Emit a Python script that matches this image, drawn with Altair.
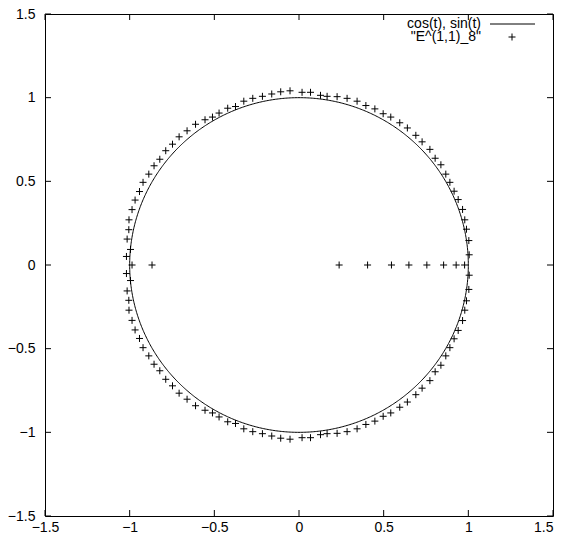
import altair as alt
import pandas as pd
import numpy as np

# eigenvalues (upper half-plane; lower half are conjugates)
upper_re = [-0.053, -0.108, -0.161, -0.216, -0.273, -0.326, -0.375, -0.421, -0.472, -0.511,
            -0.555, -0.611, -0.661, -0.708, -0.747, -0.787, -0.822, -0.856, -0.887, -0.921,
            -0.942, -0.968, -0.986, -1.004, -1.005, -1.015, -0.995, -1.019,
            0.018, 0.068, 0.127, 0.166, 0.225, 0.284, 0.343, 0.395, 0.448, 0.497,
            0.542, 0.595, 0.640, 0.690, 0.727, 0.773, 0.804, 0.838, 0.867, 0.891,
            0.916, 0.940, 0.966, 0.979, 0.989, 1.003, 1.005]
upper_im = [1.041, 1.035, 1.022, 1.008, 0.996, 0.979, 0.947, 0.937, 0.908, 0.884,
            0.868, 0.841, 0.802, 0.766, 0.722, 0.683, 0.632, 0.593, 0.543, 0.494,
            0.439, 0.388, 0.331, 0.270, 0.211, 0.155, 0.093, 0.051,
            1.032, 1.032, 1.014, 1.008, 1.006, 0.996, 0.979, 0.953, 0.933, 0.904,
            0.884, 0.850, 0.819, 0.775, 0.736, 0.691, 0.638, 0.599, 0.543, 0.494,
            0.441, 0.391, 0.332, 0.270, 0.214, 0.146, 0.061]
real_re = [-0.986, -0.868, 0.237, 0.405, 0.546, 0.649, 0.755, 0.854, 0.928, 0.978]

tick_values = [-1.5, -1.0, -0.5, 0.0, 0.5, 1.0, 1.5]
legend_labels = ["cos(t), sin(t)", '"E^(1,1)_8"']

eig = pd.DataFrame({
    "re": upper_re + upper_re + real_re,
    "im": upper_im + [-v for v in upper_im] + [0.0] * len(real_re),
})

t = np.linspace(0, 2 * np.pi, 721)
circle = pd.DataFrame({"t": t, "x": np.cos(t), "y": np.sin(t)})
ticks = pd.DataFrame({"v": tick_values})

W, H = 508, 502
FONT = "Liberation Sans"
PLUS = "M-1,0L1,0M0,-1L0,1"

xs = alt.Scale(domain=[-1.5, 1.5], nice=False, zero=False)
ys = alt.Scale(domain=[-1.5, 1.5], nice=False, zero=False)
xaxis = alt.Axis(values=tick_values, title=None, labelPadding=4, format="~g",
                 labelFlush=False, labelOverlap=False,
                 labelAlign={"condition": {"test": "datum.value >= 1.5", "value": "right"},
                             "value": "center"})
yaxis = alt.Axis(values=tick_values, title=None, labelPadding=10, format="~g",
                 labelFlush=False, labelOverlap=False)

line = alt.Chart(circle).mark_line(color="black", strokeWidth=1).encode(
    x=alt.X("x:Q", scale=xs, axis=xaxis),
    y=alt.Y("y:Q", scale=ys, axis=yaxis),
    order="t:Q",
)

pts = alt.Chart(eig).mark_point(shape=PLUS, filled=False, color="black",
                                strokeWidth=1, size=49, opacity=1).encode(
    x=alt.X("re:Q", scale=xs, axis=xaxis),
    y=alt.Y("im:Q", scale=ys, axis=yaxis),
)

tb = alt.Chart(ticks).mark_rule(color="black", strokeWidth=1).encode(
    x=alt.X("v:Q", scale=xs, axis=xaxis), y=alt.value(H), y2=alt.value(H - 6))
tt = alt.Chart(ticks).mark_rule(color="black", strokeWidth=1).encode(
    x=alt.X("v:Q", scale=xs, axis=xaxis), y=alt.value(0), y2=alt.value(6))
tl = alt.Chart(ticks).mark_rule(color="black", strokeWidth=1).encode(
    y=alt.Y("v:Q", scale=ys, axis=yaxis), x=alt.value(0), x2=alt.value(6))
tr = alt.Chart(ticks).mark_rule(color="black", strokeWidth=1).encode(
    y=alt.Y("v:Q", scale=ys, axis=yaxis), x=alt.value(W), x2=alt.value(W - 6))

leg1 = alt.Chart(pd.DataFrame({"label": [legend_labels[0]]})).mark_text(
    align="right", baseline="middle", font=FONT, fontSize=14, color="black").encode(
    text="label:N", x=alt.value(436), y=alt.value(10))
leg2 = alt.Chart(pd.DataFrame({"label": [legend_labels[1]]})).mark_text(
    align="right", baseline="middle", font=FONT, fontSize=14, color="black").encode(
    text="label:N", x=alt.value(436), y=alt.value(23))
legline = alt.Chart(pd.DataFrame({"label": [legend_labels[0]]})).mark_rule(
    color="black", strokeWidth=1).encode(
    x=alt.value(445), x2=alt.value(490), y=alt.value(10))
legpt = alt.Chart(pd.DataFrame({"label": [legend_labels[1]]})).mark_point(
    shape=PLUS, filled=False, color="black", strokeWidth=1, size=49, opacity=1).encode(
    x=alt.value(467), y=alt.value(23))

chart = alt.layer(line, pts, tb, tt, tl, tr, leg1, leg2, legline, legpt).properties(
    width=W, height=H,
    padding={"left": 37, "top": 6, "right": 5, "bottom": 18},
    autosize=alt.AutoSizeParams(type="none"),
    background="white",
).configure_view(
    stroke="black", strokeWidth=1
).configure_axis(
    domain=False, ticks=False, tickSize=0, grid=False,
    labelFont=FONT, labelFontSize=14, labelColor="black",
)

chart.save("out.html", embed_options={"renderer": "svg", "actions": False})
